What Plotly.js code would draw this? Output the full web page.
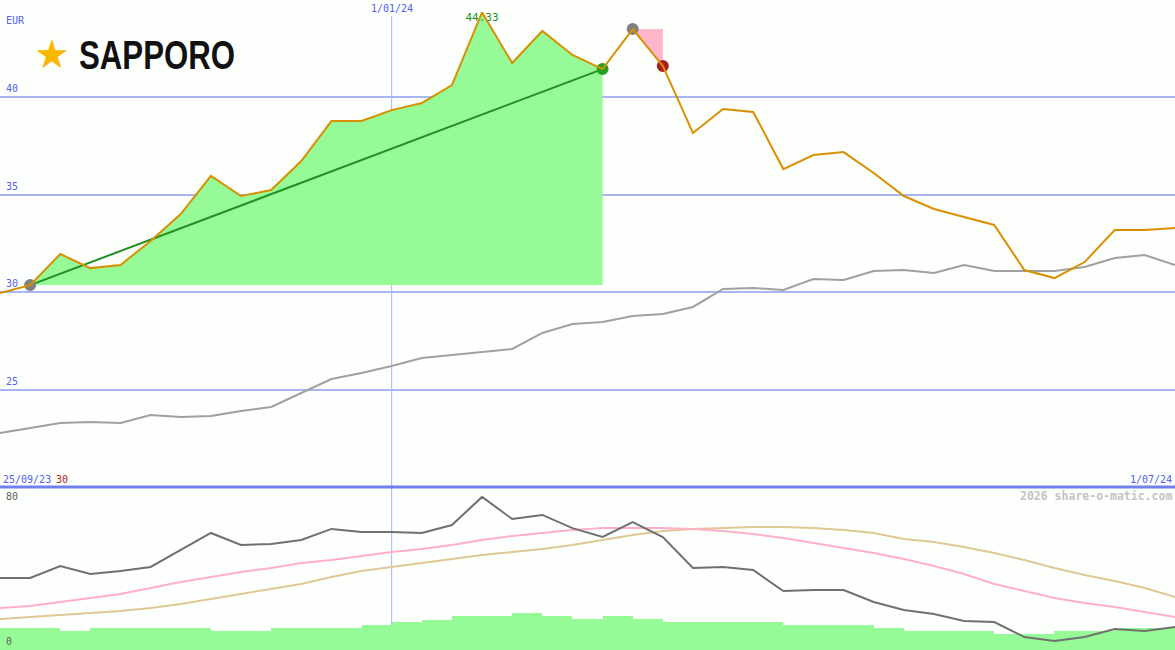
<!DOCTYPE html>
<html>
<head>
<meta charset="utf-8">
<script src="https://cdn.plot.ly/plotly-3.0.1.min.js"></script>
<style>
html,body{margin:0;padding:0;background:#fdfffd;}
#chart{width:1175px;height:650px;}
</style>
</head>
<body>
<div id="chart"></div>
<script>
// weekly dates
const dates = ['2023-10-02','2023-10-09','2023-10-16','2023-10-23','2023-10-30','2023-11-06','2023-11-13','2023-11-20','2023-11-27','2023-12-04','2023-12-11','2023-12-18','2023-12-25','2024-01-01','2024-01-08','2024-01-15','2024-01-22','2024-01-29','2024-02-05','2024-02-12','2024-02-19','2024-02-26','2024-03-04','2024-03-11','2024-03-18','2024-03-25','2024-04-01','2024-04-08','2024-04-15','2024-04-22','2024-04-29','2024-05-06','2024-05-13','2024-05-20','2024-05-27','2024-06-03','2024-06-10','2024-06-17','2024-06-24','2024-07-01'];

// SAPPORO share price (EUR)
const price = [29.96,30.37,31.96,31.24,31.40,32.63,34.01,35.96,34.93,35.24,36.72,38.77,38.77,39.33,39.69,40.61,44.33,41.74,43.38,42.15,41.43,43.48,41.59,38.16,39.39,39.23,36.31,37.03,37.18,36.11,34.93,34.27,33.86,33.45,31.14,30.73,31.55,33.19,33.19,33.29];

// comparison line (grey)
const compare = [22.80,23.05,23.31,23.36,23.31,23.72,23.62,23.67,23.92,24.13,24.84,25.56,25.87,26.23,26.64,26.79,26.94,27.10,27.92,28.38,28.48,28.79,28.89,29.25,30.17,30.22,30.12,30.68,30.63,31.09,31.14,30.99,31.40,31.09,31.09,31.09,31.30,31.76,31.91,31.40];

// lower panel (0-80 scale)
const oscDark = [35.6,35.6,41.5,37.5,39.0,41.0,49.4,57.8,51.9,52.3,54.3,59.8,58.3,58.3,57.8,61.7,75.6,64.7,66.7,60.2,55.8,63.2,55.8,40.5,41.0,39.5,29.1,29.6,29.6,23.7,19.8,17.8,14.3,13.8,6.4,4.4,6.4,10.4,9.4,11.4];
const oscPink = [20.7,21.7,23.7,25.7,27.7,30.6,33.6,36.0,38.5,40.5,43.0,44.4,46.4,48.4,49.9,51.9,54.3,56.3,57.8,59.3,60.2,60.2,60.2,59.8,58.8,57.3,55.3,52.8,50.4,47.9,44.9,41.5,37.5,32.6,29.1,25.7,23.2,21.2,18.8,16.3];
const oscTan = [15.3,16.3,17.3,18.3,19.3,20.7,22.7,25.2,27.7,30.1,32.6,36.0,39.0,41.0,43.0,44.9,46.9,48.4,49.9,51.9,54.3,56.8,58.8,59.8,60.2,60.7,60.7,60.2,59.3,57.8,54.8,53.3,50.9,47.9,44.4,40.5,37.0,34.1,30.6,26.2];
const volume = [10.9,10.9,9.4,10.9,10.9,10.9,10.9,9.4,9.4,10.9,10.9,10.9,12.3,13.8,14.8,16.8,16.8,18.3,16.8,15.3,16.8,15.3,13.8,13.8,13.8,13.8,12.3,12.3,12.3,10.9,9.4,9.4,9.4,7.9,7.9,9.4,9.4,10.9,10.9];

// signal indices
const iStart = 1, iGreen = 20, iPeak = 16, iGrey2 = 21, iRed = 22;
const peakLabel = '44.33';
const startLabel = '25/09/23', weeksLabel = '30', endLabel = '1/07/24', midLabel = '1/01/24';

const W = 1175, H = 650;
const topDomain = [163/650, 1];
const botDomain = [0, 162/650];

const blue = '#5060f0', grid = '#a8b4f4';
const mono = 'DejaVu Sans Mono';

const traces = [];
// green gain area
const gx = dates.slice(iStart, iGreen+1);
traces.push({x: gx, y: gx.map(()=>price[iStart]), mode:'lines', line:{width:0}, hoverinfo:'skip', xaxis:'x', yaxis:'y'});
traces.push({x: gx, y: price.slice(iStart, iGreen+1), mode:'lines', line:{width:0}, fill:'tonexty', fillcolor:'#96fa96', hoverinfo:'skip', xaxis:'x', yaxis:'y'});
// pink drawdown area
const px = dates.slice(iGrey2, iRed+1);
traces.push({x: px, y: price.slice(iGrey2, iRed+1), mode:'lines', line:{width:0}, hoverinfo:'skip', xaxis:'x', yaxis:'y'});
traces.push({x: px, y: px.map(()=>price[iGrey2]), mode:'lines', line:{width:0}, fill:'tonexty', fillcolor:'#ffb6c8', hoverinfo:'skip', xaxis:'x', yaxis:'y'});
// peak label (under the line)
traces.push({x:[dates[iPeak]], y:[price[iPeak]], mode:'text', text:[peakLabel], textposition:'bottom center', textfont:{family:mono, size:11, color:'#209020'}, hoverinfo:'skip', xaxis:'x', yaxis:'y'});
// comparison
traces.push({x: dates, y: compare, mode:'lines', line:{color:'#a0a0a0', width:2}, xaxis:'x', yaxis:'y'});
// trend line
traces.push({x:[dates[iStart], dates[iGreen]], y:[price[iStart], price[iGreen]], mode:'lines', line:{color:'#209020', width:2}, xaxis:'x', yaxis:'y'});
// markers
traces.push({x:[dates[iStart], dates[iGrey2]], y:[price[iStart], price[iGrey2]], mode:'markers', marker:{color:'#808080', size:12}, xaxis:'x', yaxis:'y'});
traces.push({x:[dates[iGreen]], y:[price[iGreen]], mode:'markers', marker:{color:'#20a020', size:12}, xaxis:'x', yaxis:'y'});
traces.push({x:[dates[iRed]], y:[price[iRed]], mode:'markers', marker:{color:'#a82020', size:12}, xaxis:'x', yaxis:'y'});
// price
traces.push({x: dates, y: price, mode:'lines', line:{color:'#d99000', width:2}, xaxis:'x', yaxis:'y'});

// lower panel
traces.push({x: dates.slice(0, volume.length), y: volume, type:'bar', marker:{color:'#96fa96', line:{width:0}}, width: 7*86400000, offset: 0, xaxis:'x2', yaxis:'y2'});
traces.push({x: dates, y: oscTan, mode:'lines', line:{color:'#e0c894', width:2}, xaxis:'x2', yaxis:'y2'});
traces.push({x: dates, y: oscPink, mode:'lines', line:{color:'#ffb0c8', width:2}, xaxis:'x2', yaxis:'y2'});
traces.push({x: dates, y: oscDark, mode:'lines', line:{color:'#707070', width:2}, xaxis:'x2', yaxis:'y2'});

const px2y = p => 1 - p/H;
const ann = [];
function A(o){ ann.push(Object.assign({showarrow:false, xref:'paper', yref:'paper', font:{family:mono, size:10, color:blue}}, o)); }
A({text:'EUR', x:4/W, y:px2y(20), xanchor:'left', yanchor:'middle'});
[40,35,30,25].forEach(v => A({text:String(v), x:4/W, y:v, yref:'y', xanchor:'left', yanchor:'bottom', yshift:1}));
A({text:midLabel, x:'2024-01-01', xref:'x', y:px2y(9), xanchor:'center', yanchor:'middle'});
A({text:startLabel, x:1/W, y:px2y(479), xanchor:'left', yanchor:'middle'});
A({text:weeksLabel, x:54/W, y:px2y(479), xanchor:'left', yanchor:'middle', font:{family:mono, size:10, color:'#c02020'}});
A({text:endLabel, x:1174/W, y:px2y(479), xanchor:'right', yanchor:'middle'});
A({text:'<b>2026 share-o-matic.com</b>', x:1174/W, y:px2y(496), xanchor:'right', yanchor:'middle', font:{family:mono, size:11.5, color:'#c4c4c4'}});
A({text:'80', x:4/W, y:px2y(496), xanchor:'left', yanchor:'middle', font:{family:mono, size:10, color:'#606060'}});
A({text:'0', x:4/W, y:px2y(641), xanchor:'left', yanchor:'middle', font:{family:mono, size:10, color:'#606060'}});
A({text:'★', x:52/W, y:px2y(54), xanchor:'center', yanchor:'middle', font:{family:'DejaVu Sans', size:40, color:'#f8b800'}});
A({text:'<b>SAPPORO</b>', x:77/W, y:px2y(55), xanchor:'left', yanchor:'middle', font:{family:'Liberation Sans', size:40, color:'#111111'}});

const shapes = [
  {type:'line', xref:'x', yref:'paper', x0:'2024-01-01', x1:'2024-01-01', y0:0, y1:px2y(16), line:{color:grid, width:1}, layer:'below'},
  {type:'line', xref:'paper', yref:'paper', x0:0, x1:1, y0:px2y(487), y1:px2y(487), line:{color:'#7080f0', width:3}, layer:'above'}
];

const layout = {
  width: W, height: H,
  margin:{l:0, r:0, t:0, b:0},
  paper_bgcolor:'#fdfffd', plot_bgcolor:'#fdfffd',
  showlegend:false,
  xaxis:{type:'date', range:['2023-10-02','2024-07-01'], domain:[0,1], anchor:'y', showticklabels:false, showgrid:false, zeroline:false, showline:false, ticks:''},
  xaxis2:{type:'date', range:['2023-10-02','2024-07-01'], domain:[0,1], anchor:'y2', matches:'x', showticklabels:false, showgrid:false, zeroline:false, showline:false, ticks:''},
  yaxis:{domain:topDomain, range:[20.034, 44.966], tickvals:[25,30,35,40], showticklabels:false, showgrid:true, gridcolor:grid, gridwidth:2, zeroline:false, showline:false, ticks:''},
  yaxis2:{domain:botDomain, range:[0,80], showticklabels:false, showgrid:false, zeroline:false, showline:false, ticks:''},
  annotations: ann,
  shapes: shapes,
  bargap:0
};
Plotly.newPlot('chart', traces, layout, {displayModeBar:false, staticPlot:true}).then(gd => {
  // condense the logo wordmark horizontally
  gd.querySelectorAll('.annotation-text').forEach(t => {
    if (t.textContent === 'SAPPORO') {
      t.style.transformBox = 'fill-box';
      t.style.transformOrigin = 'left center';
      t.style.transform = 'scaleX(0.78)';
    }
  });
});
</script>
</body>
</html>
